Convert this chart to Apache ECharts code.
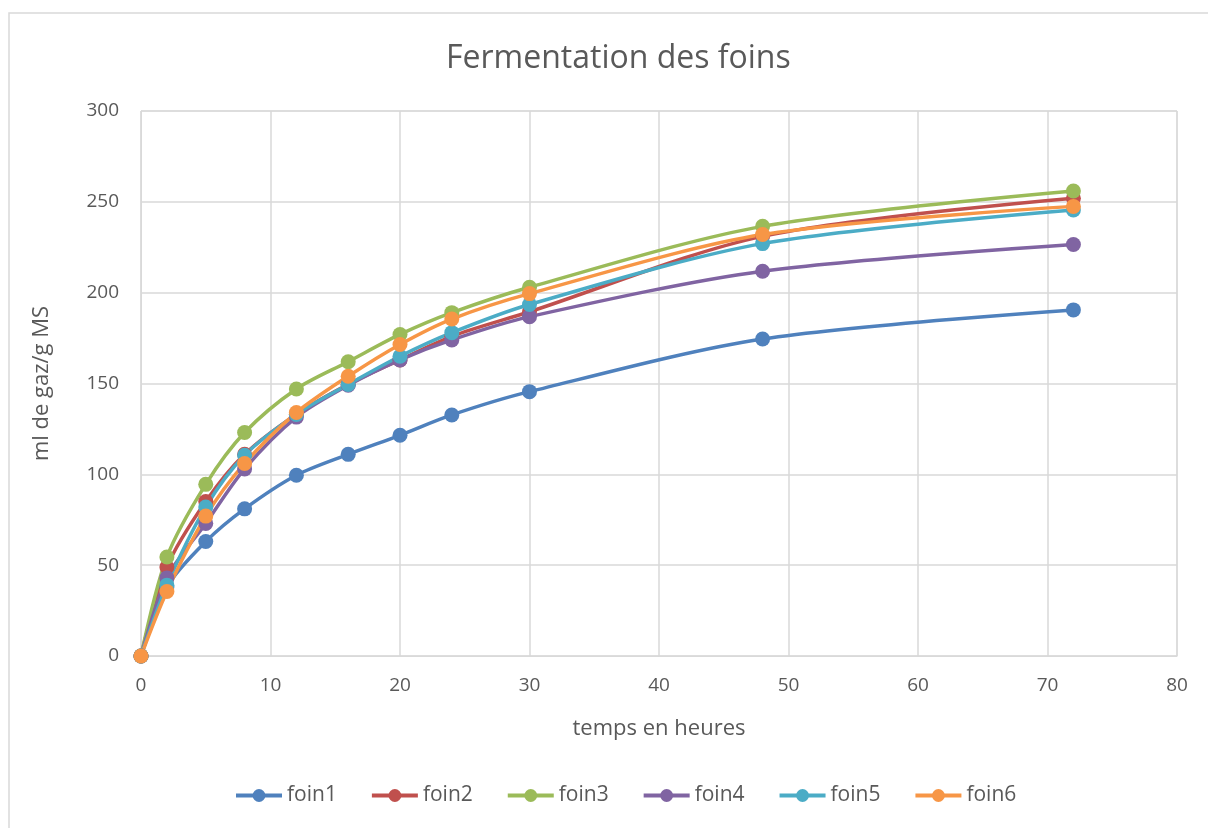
<!DOCTYPE html>
<html>
<head>
<meta charset="utf-8">
<script src="https://cdn.jsdelivr.net/npm/echarts@6/dist/echarts.min.js"></script>
<style>html,body{margin:0;padding:0;background:#fff;}#c{width:1208px;height:828px;}</style>
</head>
<body>
<div id="c"></div>
<script>
const hours = [0, 2, 5, 8, 12, 16, 20, 24, 30, 48, 72];
const seriesNames = ['foin1', 'foin2', 'foin3', 'foin4', 'foin5', 'foin6'];
const foin1 = [0, 38, 63, 81, 99.5, 111, 121.5, 132.7, 145.5, 174.5, 190.5];
const foin2 = [0, 49, 85, 111, 133, 149.5, 163, 176, 189.5, 231, 252];
const foin3 = [0, 54.5, 94.5, 123, 147, 162, 177, 189, 203, 236.5, 256];
const foin4 = [0, 43, 73, 103, 131.5, 149, 163, 174, 186.8, 211.8, 226.5];
const foin5 = [0, 39, 82, 110.5, 133, 149.5, 165, 178, 193.5, 227, 245.5];
const foin6 = [0, 35.5, 77, 106, 134, 154, 171.5, 185.5, 199.5, 232, 247.5];
const allValues = [foin1, foin2, foin3, foin4, foin5, foin6];
const colors = ['#4F81BD', '#C0504D', '#9BBB59', '#8064A2', '#4BACC6', '#F79646'];

const FONT = '"Open Sans", "Noto Sans", sans-serif';
const chart = echarts.init(document.getElementById('c'));
chart.setOption({
  animation: false,
  color: colors,
  textStyle: { fontFamily: FONT },
  title: {
    text: 'Fermentation des foins',
    left: 441, top: 38,
    textStyle: { fontFamily: FONT, fontSize: 32, fontWeight: 'normal', color: '#595959' }
  },
  graphic: [{
    type: 'rect', shape: { x: 9, y: 13, width: 1300, height: 900 },
    style: { fill: 'none', stroke: '#d9d9d9', lineWidth: 1.5 }, silent: true, z: -1
  }],
  legend: {
    bottom: 17, left: 229,
    itemWidth: 46, itemHeight: 16, itemGap: 33,
    lineStyle: { width: 4 },
    textStyle: { fontFamily: FONT, fontSize: 21, color: '#595959' },
    data: seriesNames
  },
  grid: { left: 141, right: 31, top: 111, bottom: 172, show: true, borderColor: '#d9d9d9', borderWidth: 1 },
  xAxis: {
    type: 'value', min: 0, max: 80, interval: 10,
    name: 'temps en heures', nameLocation: 'middle', nameGap: 62,
    nameTextStyle: { fontFamily: FONT, fontSize: 22, color: '#595959' },
    axisLine: { show: true, lineStyle: { color: '#d9d9d9' } },
    axisTick: { show: false },
    axisLabel: { fontFamily: FONT, fontSize: 19, color: '#595959', margin: 20 },
    splitLine: { show: true, lineStyle: { color: '#d9d9d9', width: 1.5 } }
  },
  yAxis: {
    type: 'value', min: 0, max: 300, interval: 50,
    name: 'ml de gaz/g MS', nameLocation: 'middle', nameGap: 88,
    nameTextStyle: { fontFamily: FONT, fontSize: 22, color: '#595959' },
    axisLine: { show: true, lineStyle: { color: '#d9d9d9' } },
    axisTick: { show: false },
    axisLabel: { fontFamily: FONT, fontSize: 19, color: '#595959', margin: 22 },
    splitLine: { show: true, lineStyle: { color: '#d9d9d9', width: 1.5 } }
  },
  series: seriesNames.map((n, i) => ({
    name: n, type: 'line', smooth: 0.3,
    symbol: 'circle', symbolSize: 15,
    lineStyle: { width: 3.5, color: colors[i] },
    itemStyle: { color: colors[i] },
    data: hours.map((h, k) => [h, allValues[i][k]])
  }))
});
</script>
</body>
</html>
